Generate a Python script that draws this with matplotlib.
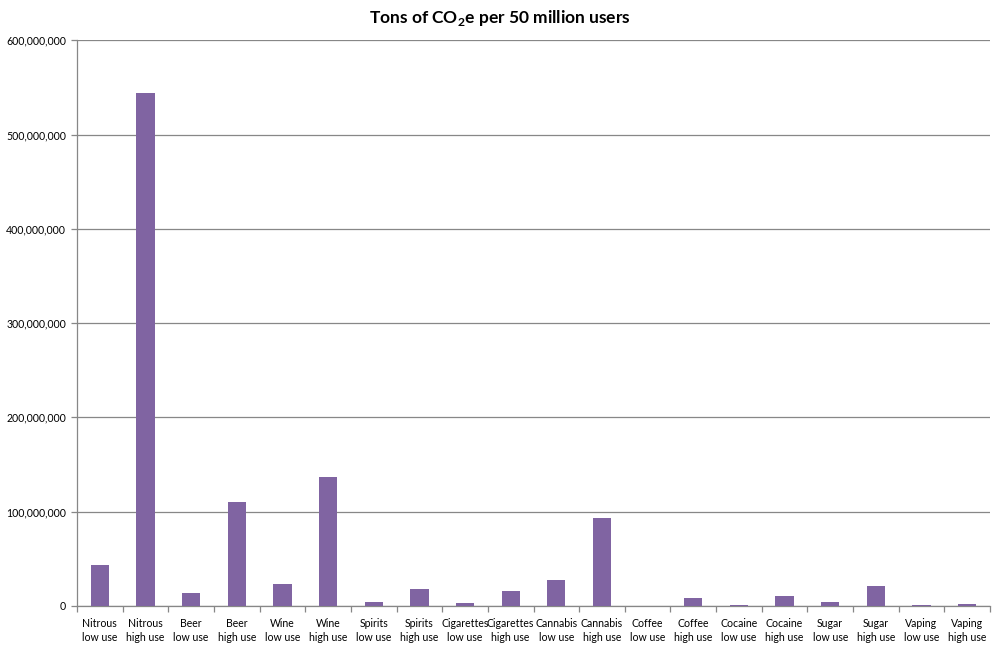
#!/usr/bin/env python3
import matplotlib
matplotlib.use("Agg")
import matplotlib.pyplot as plt
from matplotlib.ticker import FuncFormatter, FixedLocator

SUBSTANCES = ["Nitrous", "Beer", "Wine", "Spirits", "Cigarettes", "Cannabis",
              "Coffee", "Cocaine", "Sugar", "Vaping"]
USE_LEVELS = ["low use", "high use"]
LOW_USE = [43.5e6, 13.4e6, 23.0e6, 4.2e6, 2.8e6, 27.6e6, 0.2e6, 1.0e6, 4.2e6, 1.0e6]
HIGH_USE = [544e6, 110.6e6, 136.8e6, 17.3e6, 15.2e6, 93.6e6, 8.8e6, 10.6e6, 20.5e6, 2.0e6]
Y_TICKS = [0, 100e6, 200e6, 300e6, 400e6, 500e6, 600e6]

BAR_COLOR = "#8064A2"
GRID_COLOR = "#878787"

plt.rcParams.update({
    "font.family": ["Lato", "DejaVu Sans"],
    "mathtext.fontset": "custom",
    "mathtext.rm": "Lato",
    "mathtext.bf": "Lato:bold",
})

labels = []
values = []
for sub, lo, hi in zip(SUBSTANCES, LOW_USE, HIGH_USE):
    labels.append(f"{sub}\n{USE_LEVELS[0]}")
    values.append(lo)
    labels.append(f"{sub}\n{USE_LEVELS[1]}")
    values.append(hi)

fig = plt.figure(figsize=(10, 6.5), dpi=100)
ax = fig.add_axes([0.077, 0.068, 0.913, 0.870])

xs = list(range(len(values)))
ax.bar(xs, values, width=0.4, color=BAR_COLOR, zorder=3)

ax.set_xlim(-0.5, len(values) - 0.5)
ax.set_ylim(0, 600e6)
ax.set_yticks(Y_TICKS)
ax.yaxis.set_major_formatter(FuncFormatter(lambda v, _: f"{int(v):,}"))
ax.grid(True, axis="y", color=GRID_COLOR, linewidth=0.9, zorder=0)
ax.set_axisbelow(True)

ax.set_xticks(xs, labels, fontsize=7.6, linespacing=1.35)
ax.xaxis.set_minor_locator(FixedLocator([x + 0.5 for x in range(-1, len(values))]))
ax.tick_params(axis="x", which="major", length=0, pad=9)
ax.tick_params(axis="x", which="minor", length=4, color=GRID_COLOR, width=0.9)
ax.tick_params(axis="y", length=4, color=GRID_COLOR, width=0.9, labelsize=7.6, pad=4)

for side in ("top", "right"):
    ax.spines[side].set_visible(False)
for side in ("left", "bottom"):
    ax.spines[side].set_color(GRID_COLOR)
    ax.spines[side].set_linewidth(0.9)

fig.text(0.5, 0.972, r"Tons of CO$_\mathbf{2}$e per 50 million users",
         ha="center", va="center", fontsize=12.5, fontweight="bold")

fig.savefig("out.png", dpi=100, facecolor="white")
